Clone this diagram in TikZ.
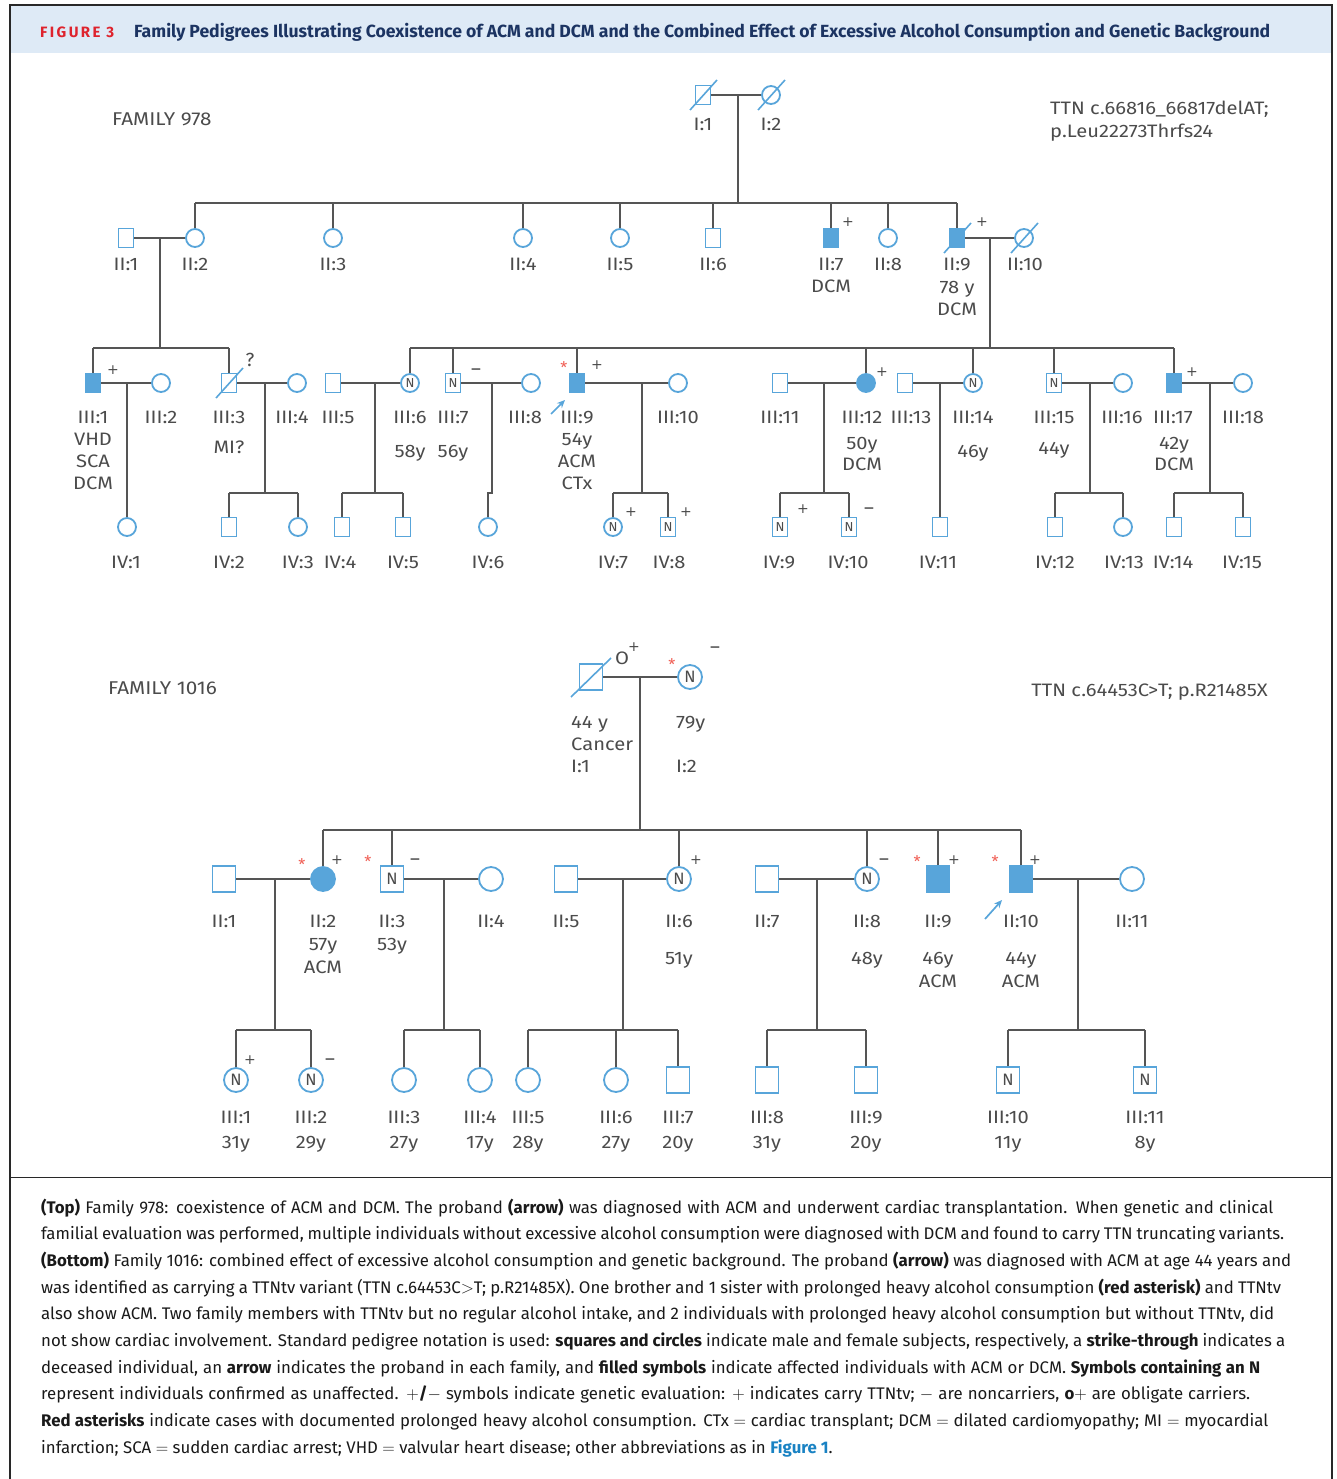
\documentclass[tikz,border=0pt]{standalone}
\usepackage{fontspec}
\setmainfont{Fira Sans}
\newfontfamily\widefont{Fira Sans}[FakeStretch=1.12]
\newfontfamily\djv{DejaVu Sans}
\usetikzlibrary{arrows.meta}
\definecolor{symblue}{RGB}{88,165,218}
\definecolor{lncol}{RGB}{85,85,85}
\definecolor{txtgray}{RGB}{75,75,75}
\definecolor{hdrbg}{RGB}{222,234,246}
\definecolor{navy}{RGB}{28,52,98}
\definecolor{figred}{RGB}{222,35,45}
\definecolor{astred}{RGB}{240,95,85}
\definecolor{linkblue}{RGB}{25,130,195}
\definecolor{captxt}{RGB}{25,25,25}
\definecolor{framecol}{RGB}{40,40,40}
\newcommand\lblfont{\widefont\fontsize{18}{20}\selectfont}
\newcommand\famfont{\widefont\fontsize{18.5}{21}\selectfont}
\newcommand\sgnfont{\fontsize{19}{20}\selectfont}
\newcommand\plusfont{\djv\fontsize{14}{14}\selectfont}
\newcommand\astfont{\fontsize{16}{16}\selectfont}
\newcommand\nfontS{\fontsize{13}{13}\selectfont}
\newcommand\nfontL{\fontsize{16.5}{16.5}\selectfont}
\newcommand\capfont{\fontsize{16.8}{20}\selectfont}
\newcounter{labc}
\newcommand\plab[3]{\stepcounter{labc}\node[lbl,anchor=base] (L\arabic{labc}) at (#1,#2) {#3};}
\newcommand\plabw[3]{\stepcounter{labc}\node[lbl,anchor=base west] (L\arabic{labc}) at (#1,#2) {#3};}
\newcommand\psign[3]{\stepcounter{labc}\node[sgn,anchor=base] (L\arabic{labc}) at (#1,#2+6) {#3};}
\newcommand\pplus[2]{\stepcounter{labc}\node[sgn,font=\plusfont,anchor=base] (L\arabic{labc}) at (#1,#2+5) {+};}
\newcommand\pstar[2]{\stepcounter{labc}\node[ast,anchor=base] (L\arabic{labc}) at (#1,#2+9) {*};}
\newcommand\capline[3]{\stepcounter{labc}\node[capl] (L\arabic{labc}) at (41,#1) {\hbox to #2pt{#3}};}
\begin{document}
\begin{tikzpicture}[x=1pt,y=-1pt,
  ln/.style={draw=lncol, line width=1.8pt},
  sq/.style={rectangle, draw=symblue, line width=1.8pt, minimum width=15pt, minimum height=19pt, inner sep=0pt, fill=white, font=\nfontS, text=txtgray},
  ci/.style={circle, draw=symblue, line width=1.8pt, minimum size=18pt, inner sep=0pt, fill=white, font=\nfontS, text=txtgray},
  aff/.style={fill=symblue},
  bsq/.style={sq, minimum width=23pt, minimum height=26pt, font=\nfontL},
  bci/.style={ci, minimum size=24pt, font=\nfontL},
  slash/.style={draw=symblue, line width=1.6pt},
  lbl/.style={text=txtgray, font=\lblfont, inner sep=0pt},
  sgn/.style={text=txtgray, font=\sgnfont, inner sep=0pt},
  ast/.style={text=astred, font=\astfont, inner sep=0pt},
  capl/.style={anchor=base west, inner sep=0pt, text=captxt, font=\capfont},
  prob/.style={draw=symblue, fill=symblue, line width=1.7pt, -{Stealth[length=8pt,width=7pt]}}
]
\useasboundingbox (0,0) rectangle (1337,1479);
% frame and header
\fill[hdrbg] (10,5) rectangle (1332,53);
\draw[framecol, line width=1.2pt] (10,1479) -- (10,5) -- (1332,5) -- (1332,1479);
\draw[framecol, line width=2pt] (10,5) -- (1332,5);
\draw[framecol, line width=1pt] (10,1177) -- (1332,1177);
\node[anchor=base west, inner sep=0pt, text=figred, font=\fontsize{15}{16}\selectfont\bfseries] (fig) at (40,38) {\addfontfeatures{LetterSpace=16}FIGURE 3};
\node[anchor=base west, inner sep=0pt, text=navy, font=\fontsize{17.6}{20}\selectfont\bfseries] (ttl) at (134,38) {\hbox to 1136pt{Family Pedigrees Illustrating Coexistence of ACM and DCM and the Combined Effect of Excessive Alcohol Consumption and Genetic Background}};

% ================= FAMILY 978 =================
\node[lbl, anchor=base west, font=\famfont] (fam1) at (112,126) {FAMILY 978};
\node[lbl, anchor=base west] (ttn1) at (1050,115) {TTN c.66816\_66817delAT;};
\node[lbl, anchor=base west] (ttn1b) at (1050,138) {p.Leu22273Thrfs24};

% generation I
\node[sq] (aI1) at (703,95) {};
\node[ci] (aI2) at (771,95) {};
% generation II
\node[sq] (aII1) at (126,238) {};
\node[ci] (aII2) at (195,238) {};
\node[ci] (aII3) at (333,238) {};
\node[ci] (aII4) at (523,238) {};
\node[ci] (aII5) at (620,238) {};
\node[sq] (aII6) at (713,238) {};
\node[sq,aff] (aII7) at (831,238) {};
\node[ci] (aII8) at (888,238) {};
\node[sq,aff] (aII9) at (957,238) {};
\node[ci] (aII10) at (1024,238) {};
% generation III
\node[sq,aff] (aIII1) at (93,383) {};
\node[ci] (aIII2) at (161,383) {};
\node[sq] (aIII3) at (229,383) {};
\node[ci] (aIII4) at (297,383) {};
\node[sq] (aIII5) at (333,383) {};
\node[ci] (aIII6) at (410,383) {N};
\node[sq] (aIII7) at (453,383) {N};
\node[ci] (aIII8) at (531,383) {};
\node[sq,aff] (aIII9) at (577,383) {};
\node[ci] (aIII10) at (678,383) {};
\node[sq] (aIII11) at (780,383) {};
\node[ci,aff] (aIII12) at (866,383) {};
\node[sq] (aIII13) at (905,383) {};
\node[ci] (aIII14) at (973,383) {N};
\node[sq] (aIII15) at (1054,383) {N};
\node[ci] (aIII16) at (1123,383) {};
\node[sq,aff] (aIII17) at (1174,383) {};
\node[ci] (aIII18) at (1243,383) {};
% generation IV
\node[ci] (aIV1) at (127,527) {};
\node[sq] (aIV2) at (229,527) {};
\node[ci] (aIV3) at (298,527) {};
\node[sq] (aIV4) at (342,527) {};
\node[sq] (aIV5) at (403,527) {};
\node[ci] (aIV6) at (488,527) {};
\node[ci] (aIV7) at (613,527) {N};
\node[sq] (aIV8) at (668,527) {N};
\node[sq] (aIV9) at (780,527) {N};
\node[sq] (aIV10) at (849,527) {N};
\node[sq] (aIV11) at (940,527) {};
\node[sq] (aIV12) at (1055,527) {};
\node[ci] (aIV13) at (1123,527) {};
\node[sq] (aIV14) at (1174,527) {};
\node[sq] (aIV15) at (1243,527) {};

% connectors 978
\draw[ln] (aI1) -- (aI2);
\coordinate (am0) at (738,95); \coordinate (as0) at (738,203);
\draw[ln] (am0) -- (as0);
\draw[ln] (aII2 |- as0) -- (aII9 |- as0);
\foreach \n in {aII2,aII3,aII4,aII5,aII6,aII7,aII8,aII9} \draw[ln] (\n.north) -- (\n |- as0);
\draw[ln] (aII1) -- (aII2);
\coordinate (am1) at (160,238); \coordinate (as1) at (160,348);
\draw[ln] (am1) -- (as1);
\draw[ln] (aII9) -- (aII10);
\coordinate (am2) at (990,238); \coordinate (as2) at (990,348);
\draw[ln] (am2) -- (as2);
\draw[ln] (aIII1 |- as1) -- (aIII3 |- as1);
\foreach \n in {aIII1,aIII3} \draw[ln] (\n.north) -- (\n |- as1);
\draw[ln] (aIII6 |- as2) -- (aIII17 |- as2);
\foreach \n in {aIII6,aIII7,aIII9,aIII12,aIII14,aIII15,aIII17} \draw[ln] (\n.north) -- (\n |- as2);
\coordinate (asib) at (0,493);
\draw[ln] (aIII1) -- (aIII2);
\coordinate (am3) at (127,383); \draw[ln] (am3) -- (aIV1.north);
\draw[ln] (aIII3) -- (aIII4);
\coordinate (am4) at (265,383); \draw[ln] (am4) -- (am4 |- asib);
\draw[ln] (aIV2 |- asib) -- (aIV3 |- asib);
\foreach \n in {aIV2,aIV3} \draw[ln] (\n.north) -- (\n |- asib);
\draw[ln] (aIII5) -- (aIII6);
\coordinate (am5) at (375,383); \draw[ln] (am5) -- (am5 |- asib);
\draw[ln] (aIV4 |- asib) -- (aIV5 |- asib);
\foreach \n in {aIV4,aIV5} \draw[ln] (\n.north) -- (\n |- asib);
\draw[ln] (aIII7) -- (aIII8);
\coordinate (am6) at (492,383);
\draw[ln] (am6) -- (am6 |- asib) -- (aIV6 |- asib) -- (aIV6.north);
\draw[ln] (aIII9) -- (aIII10);
\coordinate (am7) at (642,383); \draw[ln] (am7) -- (am7 |- asib);
\draw[ln] (aIV7 |- asib) -- (aIV8 |- asib);
\foreach \n in {aIV7,aIV8} \draw[ln] (\n.north) -- (\n |- asib);
\draw[ln] (aIII11) -- (aIII12);
\coordinate (am8) at (824,383); \draw[ln] (am8) -- (am8 |- asib);
\draw[ln] (aIV9 |- asib) -- (aIV10 |- asib);
\foreach \n in {aIV9,aIV10} \draw[ln] (\n.north) -- (\n |- asib);
\draw[ln] (aIII13) -- (aIII14);
\coordinate (am9) at (940,383); \draw[ln] (am9) -- (aIV11.north);
\draw[ln] (aIII15) -- (aIII16);
\coordinate (am10) at (1090,383); \draw[ln] (am10) -- (am10 |- asib);
\draw[ln] (aIV12 |- asib) -- (aIV13 |- asib);
\foreach \n in {aIV12,aIV13} \draw[ln] (\n.north) -- (\n |- asib);
\draw[ln] (aIII17) -- (aIII18);
\coordinate (am11) at (1210,383); \draw[ln] (am11) -- (am11 |- asib);
\draw[ln] (aIV14 |- asib) -- (aIV15 |- asib);
\foreach \n in {aIV14,aIV15} \draw[ln] (\n.north) -- (\n |- asib);

% deceased slashes 978
\foreach \n in {aI1,aI2,aII9,aII10,aIII3} \draw[slash] ([shift={(-13,15)}]\n.center) -- ([shift={(14,-15)}]\n.center);
% proband arrow 978
\coordinate (apa) at (551,414);
\draw[prob] (apa) -- ([shift={(-12,17)}]aIII9.center);

% labels 978
\plab{703}{131}{I:1} \plab{771}{131}{I:2}
\plab{126}{270}{II:1} \plab{195}{270}{II:2} \plab{333}{270}{II:3} \plab{523}{270}{II:4}
\plab{620}{270}{II:5} \plab{713}{270}{II:6} \plab{831}{270}{II:7} \plab{888}{270}{II:8}
\plab{957}{270}{II:9} \plab{1025}{270}{II:10}
\plab{831}{292}{DCM} \plab{957}{293}{78 y} \plab{957}{315}{DCM}
\plab{93}{423}{III:1} \plab{161}{423}{III:2} \plab{229}{423}{III:3} \plab{292}{423}{III:4}
\plab{338}{423}{III:5} \plab{410}{423}{III:6} \plab{453}{423}{III:7} \plab{525}{423}{III:8}
\plab{577}{423}{III:9} \plab{678}{423}{III:10} \plab{780}{423}{III:11} \plab{862}{423}{III:12}
\plab{911}{423}{III:13} \plab{973}{423}{III:14} \plab{1054}{423}{III:15} \plab{1122}{423}{III:16}
\plab{1173}{423}{III:17} \plab{1243}{423}{III:18}
\plab{93}{445}{VHD} \plab{93}{467}{SCA} \plab{93}{489}{DCM}
\plab{229}{453}{MI?}
\plab{410}{457}{58y} \plab{453}{457}{56y}
\plab{577}{445}{54y} \plab{577}{467}{ACM} \plab{577}{489}{CTx}
\plab{862}{449}{50y} \plab{862}{470}{DCM}
\plab{973}{457}{46y} \plab{1054}{454}{44y}
\plab{1174}{449}{42y} \plab{1174}{470}{DCM}
\plab{126}{568}{IV:1} \plab{229}{568}{IV:2} \plab{298}{568}{IV:3} \plab{340}{568}{IV:4}
\plab{403}{568}{IV:5} \plab{488}{568}{IV:6} \plab{613}{568}{IV:7} \plab{669}{568}{IV:8}
\plab{779}{568}{IV:9} \plab{848}{568}{IV:10} \plab{938}{568}{IV:11} \plab{1055}{568}{IV:12}
\plab{1124}{568}{IV:13} \plab{1173}{568}{IV:14} \plab{1242}{568}{IV:15}
% signs 978
\pplus{848}{221} \pplus{982}{221}
\pplus{113}{369} \psign{250}{360}{?} \psign{476}{369}{–}
\pstar{564}{364} \pplus{597}{364}
\pplus{882}{371} \pplus{1192}{371}
\pplus{631}{511} \pplus{686}{511} \pplus{803}{508} \psign{869}{508}{–}

% ================= FAMILY 1016 =================
\node[lbl, anchor=base west, font=\famfont] (fam2) at (108,694) {FAMILY 1016};
\node[lbl, anchor=base east] (ttn2) at (1268,696) {TTN c.64453C>T; p.R21485X};

\node[bsq] (bI1) at (591,677) {};
\node[bci] (bI2) at (690,677) {N};
\node[bsq] (bII1) at (224,879) {};
\node[bci,aff] (bII2) at (323,879) {};
\node[bsq] (bII3) at (392,879) {N};
\node[bci] (bII4) at (491,879) {};
\node[bsq] (bII5) at (566,879) {};
\node[bci] (bII6) at (679,879) {N};
\node[bsq] (bII7) at (767,879) {};
\node[bci] (bII8) at (867,879) {N};
\node[bsq,aff] (bII9) at (938,879) {};
\node[bsq,aff] (bII10) at (1021,879) {};
\node[bci] (bII11) at (1132,879) {};
\node[bci] (bIII1) at (236,1080) {N};
\node[bci] (bIII2) at (311,1080) {N};
\node[bci] (bIII3) at (404,1080) {};
\node[bci] (bIII4) at (480,1080) {};
\node[bci] (bIII5) at (528,1080) {};
\node[bci] (bIII6) at (616,1080) {};
\node[bsq] (bIII7) at (678,1080) {};
\node[bsq] (bIII8) at (767,1080) {};
\node[bsq] (bIII9) at (866,1080) {};
\node[bsq] (bIII10) at (1008,1080) {N};
\node[bsq] (bIII11) at (1145,1080) {N};

\draw[ln] (bI1) -- (bI2);
\coordinate (bm0) at (640,677); \coordinate (bs0) at (640,830);
\draw[ln] (bm0) -- (bs0);
\draw[ln] (bII2 |- bs0) -- (bII10 |- bs0);
\foreach \n in {bII2,bII3,bII6,bII8,bII9,bII10} \draw[ln] (\n.north) -- (\n |- bs0);
\coordinate (bsib) at (0,1030);
\draw[ln] (bII1) -- (bII2);
\coordinate (bm1) at (275,879); \draw[ln] (bm1) -- (bm1 |- bsib);
\draw[ln] (bIII1 |- bsib) -- (bIII2 |- bsib);
\foreach \n in {bIII1,bIII2} \draw[ln] (\n.north) -- (\n |- bsib);
\draw[ln] (bII3) -- (bII4);
\coordinate (bm2) at (444,879); \draw[ln] (bm2) -- (bm2 |- bsib);
\draw[ln] (bIII3 |- bsib) -- (bIII4 |- bsib);
\foreach \n in {bIII3,bIII4} \draw[ln] (\n.north) -- (\n |- bsib);
\draw[ln] (bII5) -- (bII6);
\coordinate (bm3) at (623,879); \draw[ln] (bm3) -- (bm3 |- bsib);
\draw[ln] (bIII5 |- bsib) -- (bIII7 |- bsib);
\foreach \n in {bIII5,bIII6,bIII7} \draw[ln] (\n.north) -- (\n |- bsib);
\draw[ln] (bII7) -- (bII8);
\coordinate (bm4) at (817,879); \draw[ln] (bm4) -- (bm4 |- bsib);
\draw[ln] (bIII8 |- bsib) -- (bIII9 |- bsib);
\foreach \n in {bIII8,bIII9} \draw[ln] (\n.north) -- (\n |- bsib);
\draw[ln] (bII10) -- (bII11);
\coordinate (bm5) at (1078,879); \draw[ln] (bm5) -- (bm5 |- bsib);
\draw[ln] (bIII10 |- bsib) -- (bIII11 |- bsib);
\foreach \n in {bIII10,bIII11} \draw[ln] (\n.north) -- (\n |- bsib);

\draw[slash] ([shift={(-20,20)}]bI1.center) -- ([shift={(20,-19)}]bI1.center);
\coordinate (bpa) at (985,919);
\draw[prob] (bpa) -- ([shift={(-19,21)}]bII10.center);

% labels 1016
\plabw{571}{728}{44 y} \plabw{571}{750}{Cancer} \plabw{571}{772}{I:1}
\plabw{676}{728}{79y} \plabw{676}{772}{I:2}
\plab{622}{664}{O} \pplus{634}{646}
\pstar{672}{661} \psign{715}{647}{–}
\plab{224}{927}{II:1} \plab{323}{927}{II:2} \plab{392}{927}{II:3} \plab{491}{927}{II:4}
\plab{566}{927}{II:5} \plab{679}{927}{II:6} \plab{767}{927}{II:7} \plab{867}{927}{II:8}
\plab{938}{927}{II:9} \plab{1021}{927}{II:10} \plab{1132}{927}{II:11}
\plab{323}{950}{57y} \plab{323}{973}{ACM} \plab{392}{950}{53y}
\plab{679}{964}{51y} \plab{867}{964}{48y}
\plab{938}{964}{46y} \plab{938}{987}{ACM}
\plab{1021}{964}{44y} \plab{1021}{987}{ACM}
\pstar{302}{861} \pplus{337}{859}
\pstar{368}{858} \psign{415}{859}{–}
\pplus{696}{859} \psign{884}{859}{–}
\pstar{917}{858} \pplus{954}{859}
\pstar{995}{858} \pplus{1035}{859}
\pplus{250}{1059} \psign{330}{1059}{–}
\plab{236}{1123}{III:1} \plab{311}{1123}{III:2} \plab{404}{1123}{III:3} \plab{480}{1123}{III:4}
\plab{528}{1123}{III:5} \plab{616}{1123}{III:6} \plab{678}{1123}{III:7} \plab{767}{1123}{III:8}
\plab{866}{1123}{III:9} \plab{1008}{1123}{III:10} \plab{1145}{1123}{III:11}
\plab{236}{1148}{31y} \plab{311}{1148}{29y} \plab{404}{1148}{27y} \plab{480}{1148}{17y}
\plab{528}{1148}{28y} \plab{616}{1148}{27y} \plab{678}{1148}{20y} \plab{767}{1148}{31y}
\plab{866}{1148}{20y} \plab{1008}{1148}{11y} \plab{1145}{1148}{8y}

% ================= CAPTION =================
\capline{1213}{1232}{\textbf{(Top)} Family 978: coexistence of ACM and DCM. The proband \textbf{(arrow)} was diagnosed with ACM and underwent cardiac transplantation. When genetic and clinical}
\capline{1239.7}{1243}{familial evaluation was performed, multiple individuals without excessive alcohol consumption were diagnosed with DCM and found to carry TTN truncating variants.}
\capline{1266.3}{1250}{\textbf{(Bottom)} Family 1016: combined effect of excessive alcohol consumption and genetic background. The proband \textbf{(arrow)} was diagnosed with ACM at age 44 years and}
\capline{1293}{1240}{was identified as carrying a TTNtv variant (TTN c.64453C$>$T; p.R21485X). One brother and 1 sister with prolonged heavy alcohol consumption \textbf{(red asterisk)} and TTNtv}
\capline{1319.7}{1233}{also show ACM. Two family members with TTNtv but no regular alcohol intake, and 2 individuals with prolonged heavy alcohol consumption but without TTNtv, did}
\capline{1346.3}{1244}{not show cardiac involvement. Standard pedigree notation is used: \textbf{squares and circles} indicate male and female subjects, respectively, a \textbf{strike-through} indicates a}
\capline{1373}{1219}{deceased individual, an \textbf{arrow} indicates the proband in each family, and \textbf{filled symbols} indicate affected individuals with ACM or DCM. \textbf{Symbols containing an N}}
\capline{1399.7}{1209}{represent individuals confirmed as unaffected. $+$\textbf{/}$-$ symbols indicate genetic evaluation: $+$ indicates carry TTNtv; $-$ are noncarriers, \textbf{o}$+$ are obligate carriers.}
\capline{1426.3}{1227}{\textbf{Red asterisks} indicate cases with documented prolonged heavy alcohol consumption. CTx $=$ cardiac transplant; DCM $=$ dilated cardiomyopathy; MI $=$ myocardial}
\node[capl] (clast) at (41,1453) {infarction; SCA $=$ sudden cardiac arrest; VHD $=$ valvular heart disease; other abbreviations as in \textcolor{linkblue}{\textbf{Figure 1}}.};
\end{tikzpicture}
\end{document}
